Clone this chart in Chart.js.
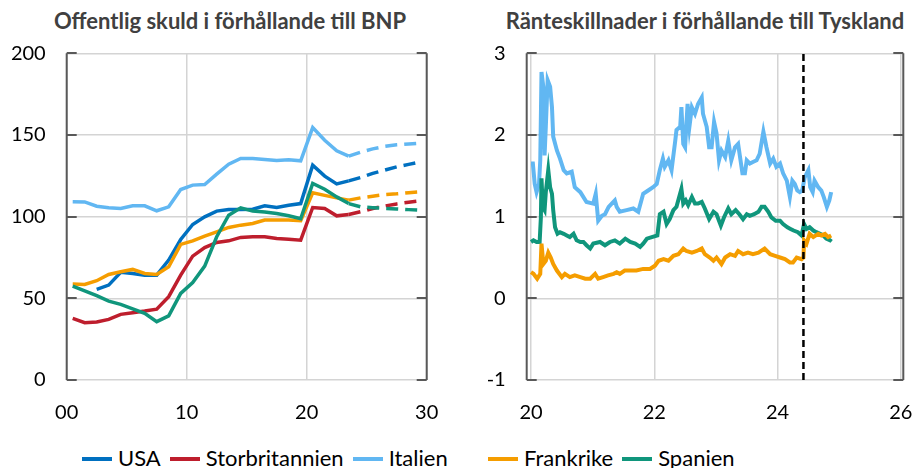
<!DOCTYPE html>
<html>
<head>
<meta charset="utf-8">
<script src="https://cdn.jsdelivr.net/npm/chart.js"></script>
<style>
  body { margin: 0; background: #fff; width: 915px; height: 468px; position: relative; overflow: hidden; font-family: Lato, sans-serif; }
  canvas { position: absolute; top: 0; }
  .title { position: absolute; top: 7px; font-weight: bold; font-size: 22px; color: #404040; text-align: center; line-height: 28px; white-space: nowrap; }
  .legend { position: absolute; top: 446px; font-size: 22px; line-height: 24px; color: #000; white-space: nowrap; }
  .legend span.sw { display: inline-block; width: 30px; height: 4px; margin-right: 6px; vertical-align: middle; position: relative; top: -1px; }
  .legend span.lb { margin-right: 9px; }
</style>
</head>
<body>
<div class="title" style="left:0;width:460px">Offentlig skuld i förhållande till BNP</div>
<div class="title" style="left:495px;width:420px">Ränteskillnader i förhållande till Tyskland</div>
<canvas id="debt" width="450" height="430" style="left:0"></canvas>
<canvas id="spread" width="455" height="430" style="left:460px"></canvas>
<div class="legend" id="legA" style="left:82px"></div>
<div class="legend" id="legB" style="left:488px"></div>
<script>
// --- left chart: government debt, % of GDP ---
var debtYears = [2000,2001,2002,2003,2004,2005,2006,2007,2008,2009,2010,2011,
                 2012,2013,2014,2015,2016,2017,2018,2019,2020,2021,2022,2023];
var forecastYears = [2023,2024,2025,2026,2027,2028,2029];
var debtTickLabels = ['00','10','20','30'];

var usaDebt = [null,null,55.5,58.1,65.9,65.2,64.2,64.2,73.4,86.0,95.2,99.9,103.4,104.4,104.4,104.6,106.6,105.6,107.0,108.0,131.5,124.8,120.0,121.9];
var ukDebt  = [37.7,35.1,35.5,37.1,40.2,41.2,42.2,43.4,51.0,64.2,75.8,81.1,84.2,85.2,87.3,87.7,87.7,86.6,86.2,85.6,105.6,105.0,100.5,101.3];
var itDebt  = [109.1,109.0,106.4,105.4,105.0,106.6,106.6,103.6,106.0,116.6,119.3,119.7,126.0,132.1,135.6,135.6,135.0,134.4,134.8,134.2,154.5,146.8,140.3,137.0];
var frDebt  = [58.7,58.5,60.8,64.6,66.3,67.7,65.2,64.6,69.3,83.0,85.2,88.1,90.7,93.4,94.8,95.8,97.9,97.9,97.9,97.5,114.6,113.0,111.5,110.1];
var esDebt  = [57.5,54.6,51.6,48.3,46.3,43.6,40.8,35.7,39.3,53.0,59.7,69.7,87.7,100.9,105.4,103.4,102.8,101.9,100.5,98.7,120.3,116.8,112.1,108.0];

var usaForecast = [121.9,124.0,126.5,128.5,130.5,132.0,133.5];
var ukForecast  = [101.3,103.0,105.0,106.5,107.8,108.8,109.7];
var itForecast  = [137.0,139.5,141.5,143.0,144.0,144.5,145.0];
var frForecast  = [110.1,111.5,112.5,113.5,114.0,114.7,115.2];
var esForecast  = [108.0,106.0,105.5,105.0,104.7,104.3,104.0];

// --- right chart: 10y spread vs Germany, percentage points ---
var italySpread = [[20.00,1.65],[20.03,1.65],[20.06,1.40],[20.09,1.30],[20.13,1.40],[20.15,1.69],[20.17,2.77],[20.20,2.59],
  [20.22,1.75],[20.24,2.10],[20.27,2.67],[20.31,2.59],[20.34,2.34],[20.36,1.98],[20.42,1.81],[20.47,1.71],[20.53,1.57],
  [20.58,1.53],[20.66,1.55],[20.71,1.36],[20.80,1.30],[20.90,1.18],[21.01,1.16],[21.05,1.28],[21.09,0.95],[21.15,1.01],
  [21.20,1.03],[21.26,1.12],[21.31,1.16],[21.36,1.20],[21.39,1.12],[21.44,1.06],[21.55,1.08],[21.66,1.10],[21.74,1.06],
  [21.82,1.28],[21.90,1.32],[21.98,1.36],[22.04,1.40],[22.09,1.57],[22.14,1.71],[22.17,1.61],[22.23,1.69],[22.28,1.57],
  [22.34,1.93],[22.36,2.06],[22.42,2.10],[22.44,2.34],[22.47,1.89],[22.50,1.85],[22.54,2.38],[22.57,2.10],[22.61,2.34],
  [22.66,2.26],[22.71,2.38],[22.77,2.46],[22.79,2.26],[22.85,2.10],[22.89,1.85],[22.93,1.85],[22.97,2.16],[23.01,2.02],
  [23.05,1.69],[23.09,1.81],[23.15,1.73],[23.20,1.93],[23.25,1.69],[23.31,1.85],[23.36,1.89],[23.43,1.53],[23.47,1.53],
  [23.50,1.69],[23.55,1.65],[23.60,1.67],[23.66,1.69],[23.71,1.77],[23.77,2.04],[23.82,1.85],[23.88,1.65],[23.93,1.71],
  [23.98,1.61],[24.04,1.65],[24.09,1.53],[24.15,1.44],[24.20,1.24],[24.24,1.44],[24.28,1.40],[24.32,1.32],[24.36,1.30],
  [24.40,1.32],[24.44,1.48],[24.50,1.57],[24.53,1.36],[24.57,1.30],[24.60,1.44],[24.66,1.36],[24.71,1.32],[24.75,1.24],
  [24.80,1.12],[24.84,1.20],[24.87,1.30]];

var spainSpread = [[20.00,0.69],[20.04,0.71],[20.09,0.69],[20.14,0.69],[20.16,0.99],[20.17,1.47],[20.19,1.12],[20.22,1.08],
  [20.24,1.30],[20.28,1.57],[20.31,1.36],[20.34,1.28],[20.36,1.08],[20.39,0.87],[20.43,0.79],[20.47,0.81],[20.53,0.79],
  [20.58,0.77],[20.63,0.75],[20.69,0.79],[20.74,0.71],[20.80,0.69],[20.85,0.69],[20.90,0.65],[20.96,0.61],[21.01,0.67],
  [21.12,0.69],[21.20,0.65],[21.28,0.69],[21.36,0.71],[21.44,0.67],[21.53,0.73],[21.61,0.69],[21.69,0.67],[21.77,0.63],
  [21.82,0.67],[21.88,0.73],[21.96,0.75],[22.05,0.77],[22.09,1.03],[22.15,1.06],[22.20,0.91],[22.25,0.97],[22.31,1.08],
  [22.36,1.12],[22.44,1.34],[22.47,1.16],[22.51,1.20],[22.55,1.14],[22.61,1.24],[22.66,1.16],[22.71,1.16],[22.77,1.18],
  [22.82,1.10],[22.89,0.97],[22.96,1.06],[23.01,1.03],[23.08,0.89],[23.13,0.99],[23.20,1.10],[23.25,1.03],[23.32,1.08],
  [23.38,1.03],[23.44,0.97],[23.50,1.03],[23.55,1.01],[23.62,1.03],[23.69,1.06],[23.74,1.12],[23.79,1.12],[23.85,1.06],
  [23.90,0.99],[23.97,0.95],[24.04,0.95],[24.09,0.91],[24.16,0.87],[24.21,0.85],[24.26,0.83],[24.33,0.81],[24.39,0.77],
  [24.43,0.91],[24.47,0.85],[24.52,0.87],[24.58,0.83],[24.63,0.81],[24.69,0.79],[24.74,0.77],[24.79,0.73],[24.85,0.71],
  [24.87,0.73]];

var franceSpread = [[20.00,0.32],[20.04,0.30],[20.10,0.24],[20.15,0.30],[20.17,0.67],[20.20,0.42],[20.24,0.46],[20.28,0.56],
  [20.32,0.50],[20.36,0.42],[20.42,0.34],[20.50,0.26],[20.55,0.30],[20.63,0.26],[20.71,0.28],[20.80,0.26],[20.88,0.24],
  [20.96,0.24],[21.04,0.30],[21.09,0.24],[21.17,0.26],[21.25,0.28],[21.34,0.30],[21.39,0.32],[21.44,0.30],[21.52,0.34],
  [21.61,0.34],[21.71,0.34],[21.82,0.36],[21.93,0.36],[22.01,0.40],[22.07,0.46],[22.15,0.48],[22.23,0.46],[22.31,0.52],
  [22.39,0.54],[22.47,0.61],[22.52,0.58],[22.61,0.56],[22.69,0.58],[22.77,0.61],[22.82,0.54],[22.90,0.50],[22.96,0.46],
  [23.01,0.50],[23.09,0.42],[23.15,0.50],[23.23,0.54],[23.31,0.52],[23.36,0.58],[23.44,0.54],[23.52,0.56],[23.60,0.54],
  [23.69,0.56],[23.79,0.61],[23.88,0.54],[23.96,0.52],[24.04,0.50],[24.12,0.48],[24.20,0.44],[24.25,0.44],[24.31,0.50],
  [24.39,0.48],[24.42,0.50],[24.43,0.71],[24.47,0.67],[24.52,0.79],[24.58,0.75],[24.66,0.79],[24.71,0.77],[24.77,0.79],
  [24.82,0.75],[24.87,0.77]];

var markerDate = 24.42;

var colors = {
  USA: '#0070C0', Storbritannien: '#BE1E2D', Italien: '#61B7F2', Frankrike: '#F59D00', Spanien: '#10967C'
};
var fontFamily = 'Lato, sans-serif';

function debtLine(label, years, values, dashed) {
  return {
    label: label,
    data: years.map(function(yr, i) { return {x: yr - 2000 + 0.5, y: values[i]}; }),
    borderColor: colors[label],
    borderWidth: 3.5,
    borderDash: dashed ? [12, 7] : [],
    pointRadius: 0,
    tension: 0
  };
}

function spreadLine(label, pairs) {
  return {
    label: label,
    data: pairs.map(function(p) { return {x: p[0], y: p[1]}; }),
    borderColor: colors[label],
    borderWidth: 4,
    pointRadius: 0,
    tension: 0
  };
}

// dark left/right axis lines with inward tick marks, as in the original
var frame = {
  id: 'frame',
  afterDraw: function(chart) {
    var ctx = chart.ctx, a = chart.chartArea, y = chart.scales.y;
    ctx.save();
    ctx.strokeStyle = '#595959';
    ctx.lineWidth = 2;
    ctx.beginPath();
    ctx.moveTo(a.left, a.top); ctx.lineTo(a.left, a.bottom);
    ctx.moveTo(a.right, a.top); ctx.lineTo(a.right, a.bottom);
    y.ticks.forEach(function(t) {
      var py = Math.round(y.getPixelForValue(t.value));
      ctx.moveTo(a.left, py); ctx.lineTo(a.left + 10, py);
      ctx.moveTo(a.right, py); ctx.lineTo(a.right - 10, py);
    });
    ctx.stroke();
    ctx.restore();
  }
};

function axes(xmin, xmax, xstep, ymin, ymax, ystep, xcb) {
  var grid = { color: '#d4d4d4', lineWidth: 1.5, drawTicks: false };
  var tickFont = { family: fontFamily, size: 20 };
  return {
    x: {
      type: 'linear', min: xmin, max: xmax,
      grid: grid, border: { display: false },
      ticks: { stepSize: xstep, includeBounds: false, color: '#000', font: tickFont, padding: 21, maxRotation: 0, callback: xcb },
      afterFit: function(s) { s.height = 50; s.paddingLeft = 0; s.paddingRight = 0; }
    },
    y: {
      min: ymin, max: ymax,
      grid: grid, border: { display: false },
      ticks: { stepSize: ystep, color: '#000', font: tickFont, padding: 21 },
      afterFit: function(s) { s.width = 66.7; s.paddingTop = 0; s.paddingBottom = 0; }
    }
  };
}

var baseOptions = function(scales, padRight) {
  return {
    responsive: false,
    animation: false,
    layout: { padding: { top: 53.3, right: padRight, bottom: 0, left: 0 } },
    plugins: { legend: { display: false }, tooltip: { enabled: false } },
    scales: scales
  };
};

new Chart(document.getElementById('debt'), {
  type: 'line',
  data: {
    datasets: [
      debtLine('Spanien', debtYears, esDebt, false),
      debtLine('Frankrike', debtYears, frDebt, false),
      debtLine('Italien', debtYears, itDebt, false),
      debtLine('Storbritannien', debtYears, ukDebt, false),
      debtLine('USA', debtYears, usaDebt, false),
      debtLine('Spanien', forecastYears, esForecast, true),
      debtLine('Frankrike', forecastYears, frForecast, true),
      debtLine('Italien', forecastYears, itForecast, true),
      debtLine('Storbritannien', forecastYears, ukForecast, true),
      debtLine('USA', forecastYears, usaForecast, true)
    ]
  },
  options: baseOptions(axes(0, 30, 10, 0, 200, 50, function(v) { return debtTickLabels[v / 10]; }), 23.3),
  plugins: [frame]
});

new Chart(document.getElementById('spread'), {
  type: 'line',
  data: {
    datasets: [
      {
        label: 'marker',
        data: [{x: markerDate, y: -1}, {x: markerDate, y: 3}],
        borderColor: '#000', borderWidth: 2.5, borderDash: [7, 4], pointRadius: 0
      },
      spreadLine('Frankrike', franceSpread),
      spreadLine('Spanien', spainSpread),
      spreadLine('Italien', italySpread)
    ]
  },
  options: baseOptions(axes(19.93, 26.04, 2, -1, 3, 1), 11.7),
  plugins: [frame]
});

// shared legend below both panels
function legend(el, names) {
  el.innerHTML = names.map(function(n) {
    return '<span class="sw" style="background:' + colors[n] + '"></span><span class="lb">' + n + '</span>';
  }).join('');
}
legend(document.getElementById('legA'), ['USA', 'Storbritannien', 'Italien']);
legend(document.getElementById('legB'), ['Frankrike', 'Spanien']);
</script>
</body>
</html>
